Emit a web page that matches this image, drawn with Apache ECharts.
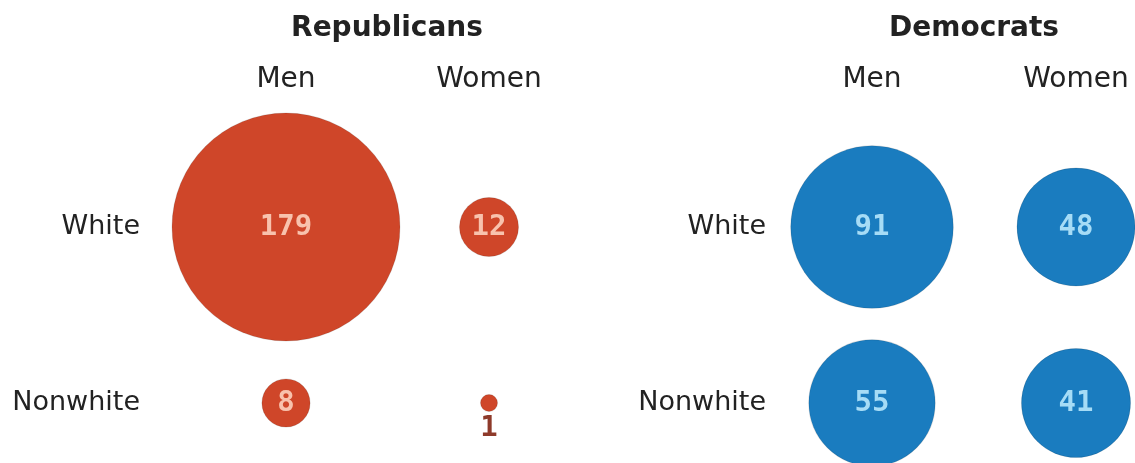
<!DOCTYPE html>
<html>
<head>
<meta charset="utf-8">
<script src="https://cdn.jsdelivr.net/npm/echarts@6/dist/echarts.min.js"></script>
<style>
html,body{margin:0;padding:0;background:#fff;}
#chart{width:1135px;height:463px;}
</style>
</head>
<body>
<div id="chart"></div>
<script>
const panelTitles = ['Republicans', 'Democrats'];
const columns = ['Men', 'Women'];
const rows = ['White', 'Nonwhite'];
const repWhite = [179, 12];
const repNonwhite = [8, 1];
const demWhite = [91, 48];
const demNonwhite = [55, 41];

const RED = '#cf4629';
const BLUE = '#1a7cbf';
const TEXT = '#222222';
const SANS = '"DejaVu Sans", sans-serif';
const MONO = '"DejaVu Sans Mono", monospace';

function toPoints(whiteVals, nonwhiteVals) {
  const pts = [];
  whiteVals.forEach((v, i) => pts.push([columns[i], rows[0], v]));
  nonwhiteVals.forEach((v, i) => pts.push([columns[i], rows[1], v]));
  return pts;
}

const sizeOf = v => 17.04 * Math.sqrt(v);

function makeSeries(idx, pts, color, labelColor, smallColor) {
  return {
    type: 'scatter',
    xAxisIndex: idx,
    yAxisIndex: idx,
    clip: false,
    data: pts.map(p => {
      const small = p[2] < 4;
      return {
        value: p,
        label: small ? {
          position: 'bottom', distance: 2, color: smallColor
        } : undefined
      };
    }),
    symbol: 'circle',
    symbolSize: d => sizeOf(d[2]),
    itemStyle: { color: color, opacity: 1, borderColor: 'rgba(0,0,0,0.12)', borderWidth: 1 },
    label: {
      show: true,
      position: 'inside',
      formatter: p => String(p.value[2]),
      fontFamily: MONO,
      fontWeight: 'bold',
      fontSize: 29,
      color: labelColor
    },
    emphasis: { disabled: true },
    silent: true
  };
}

function makeX(idx) {
  return {
    type: 'category', gridIndex: idx, data: columns, boundaryGap: false,
    position: 'top',
    axisLine: { show: false }, axisTick: { show: false }, splitLine: { show: false },
    axisLabel: { interval: 0, margin: 133, fontFamily: SANS, fontSize: 28, color: TEXT }
  };
}
function makeY(idx, margin) {
  return {
    type: 'category', gridIndex: idx, data: rows, boundaryGap: false, inverse: true,
    axisLine: { show: false }, axisTick: { show: false }, splitLine: { show: false },
    axisLabel: { interval: 0, margin: margin, fontFamily: SANS, fontSize: 27, color: TEXT }
  };
}

const chart = echarts.init(document.getElementById('chart'), null, { renderer: 'canvas' });
chart.setOption({
  animation: false,
  backgroundColor: '#ffffff',
  grid: [
    { left: 286, top: 227, width: 203, height: 176 },
    { left: 872, top: 227, width: 204, height: 176 }
  ],
  xAxis: [makeX(0), makeX(1)],
  yAxis: [makeY(0, 146), makeY(1, 106)],
  graphic: [
    { type: 'text', x: 387, y: 29, style: { text: panelTitles[0], font: 'bold 28px "DejaVu Sans"', textAlign: 'center', textVerticalAlign: 'middle', fill: TEXT } },
    { type: 'text', x: 974, y: 29, style: { text: panelTitles[1], font: 'bold 28px "DejaVu Sans"', textAlign: 'center', textVerticalAlign: 'middle', fill: TEXT } }
  ],
  series: [
    makeSeries(0, toPoints(repWhite, repNonwhite), RED, '#f8c2ad', '#8e3a2a'),
    makeSeries(1, toPoints(demWhite, demNonwhite), BLUE, '#a6dcf6', '#1a5f8f')
  ]
});
</script>
</body>
</html>
